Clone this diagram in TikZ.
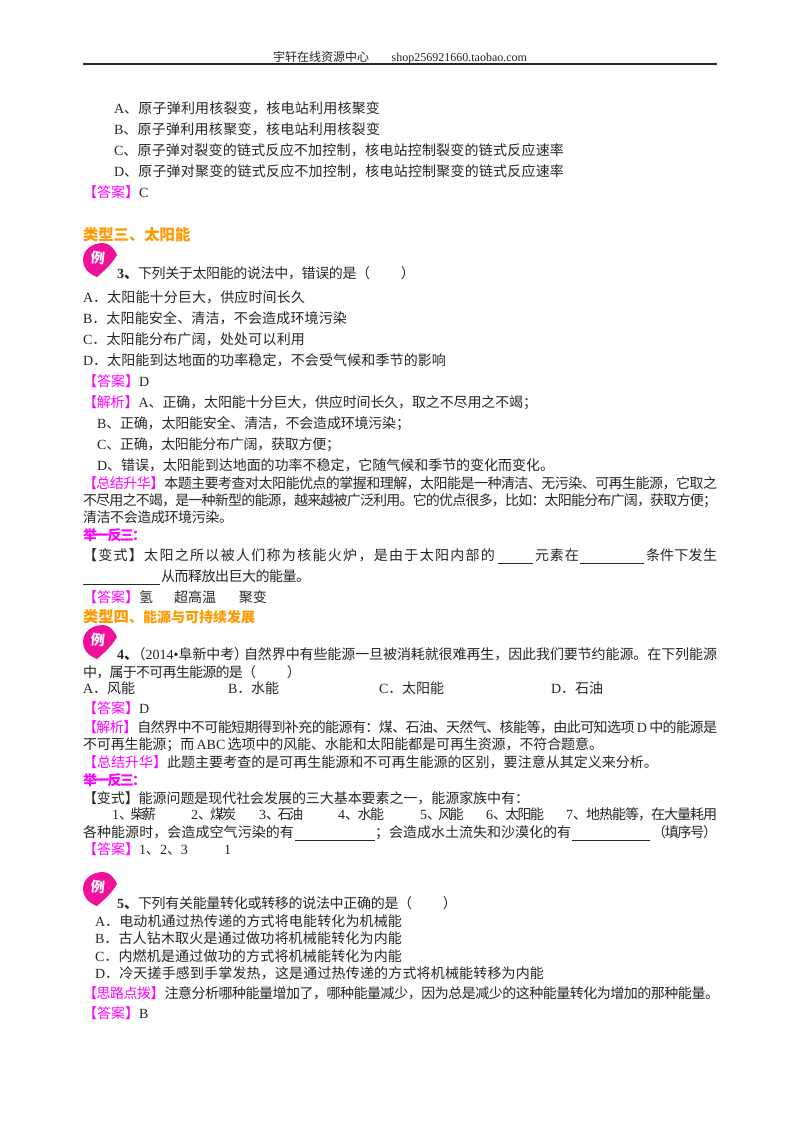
\documentclass[tikz,border=0pt]{standalone}
\usepackage{fontspec}
\setmainfont{Noto Sans CJK SC}
\newfontfamily\latinf{Liberation Serif}
\XeTeXinterchartokenstate=1
\newXeTeXintercharclass\cjkcls
\newcount\cjkloop
\newcommand\markrange[2]{\cjkloop=#1\relax
  \loop \XeTeXcharclass\cjkloop=\cjkcls \ifnum\cjkloop<#2\relax \advance\cjkloop by 1 \repeat}
\markrange{"3000}{"303F}
\markrange{"4E00}{"9FFF}
\markrange{"FF00}{"FFEF}
\XeTeXinterchartoks\cjkcls\cjkcls={\hskip 0pt plus 6pt minus 2pt\relax}
\XeTeXinterchartoks 0 \cjkcls={\hskip 0pt plus 6pt minus 1pt\relax}
\XeTeXinterchartoks\cjkcls 0 ={\hskip 0pt plus 6pt minus 1pt\relax}
\definecolor{mg}{HTML}{FF00FF}
\definecolor{og}{HTML}{FF9900}
\definecolor{ink}{HTML}{262626}
\definecolor{badgepink}{HTML}{F0109A}
\newdimen\pxu \pxu=0.75pt
\newcommand\J[2]{\makebox[#1\pxu][s]{#2}}
\newcommand\En[1]{{\latinf #1}}
\newcommand\Mg[1]{{\color{mg}#1}}
\newcommand\BN[1]{{\latinf\bfseries #1}{\bfseries 、}}
\tikzset{
  txt/.style={anchor=base west,inner sep=0pt,outer sep=0pt,font=\fontsize{10.5pt}{12pt}\selectfont,text=ink},
  head/.style={txt,text=og,font=\fontsize{11.5pt}{13pt}\selectfont\bfseries},
  sub/.style={txt,text=mg,font=\fontsize{10.5pt}{12pt}\selectfont\bfseries},
  blank/.style={draw=ink,line width=0.7pt},
  badgefill/.style={fill=badgepink},
  badgetxt/.style={inner sep=0pt,text=white,font=\fontsize{10.5pt}{12pt}\selectfont\bfseries,rotate=-6}
}
\newcommand\LiBadge[3]{%
  \fill[badgefill,shift={(#1,#2)}] (14,34) .. controls (4,30) and (0,24) .. (0,17)
    .. controls (0,6) and (10,0) .. (20,0) .. controls (26,0) and (31,5) .. (34,12)
    .. controls (28,22) and (22,27) .. (14,34) -- cycle;
  \node[badgetxt] (#3) at (#1+15,#2+15) {例};
}
\begin{document}
\begin{tikzpicture}[x=0.75pt,y=-0.75pt]
\useasboundingbox (0,0) rectangle (800,1132);
\fill[white] (0,0) rectangle (800,1132);
% header
\node[txt,font=\fontsize{9pt}{10pt}\selectfont] (hdr) at (273,61) {\J{254}{宇轩在线资源中心\hfill\En{shop256921660.taobao.com}}};
\coordinate (ruleL) at (83,64); \coordinate (ruleR) at (717,64);
\draw[ink,line width=1.5pt] (ruleL) -- (ruleR);
% first block
\node[txt] (a1) at (114,113) {\J{266}{\En{A}、原子弹利用核裂变，核电站利用核聚变}};
\node[txt] (a2) at (114,134) {\J{266}{\En{B}、原子弹利用核聚变，核电站利用核裂变}};
\node[txt] (a3) at (114,155) {\J{450}{\En{C}、原子弹对裂变的链式反应不加控制，核电站控制裂变的链式反应速率}};
\node[txt] (a4) at (114,176) {\J{450}{\En{D}、原子弹对聚变的链式反应不加控制，核电站控制聚变的链式反应速率}};
\node[txt] (a5) at (83,197) {\Mg{【答案】}\En{C}};
\node[head] (h3) at (83,240) {类型三、太阳能};
\LiBadge{83}{243}{b1}
\node[txt] (q3) at (117,278) {\J{298}{\BN{3}下列关于太阳能的说法中，错误的是（\hspace{2.2em}）}};
\node[txt] (q3a) at (83,302) {\J{222}{\En{A}．太阳能十分巨大，供应时间长久}};
\node[txt] (q3b) at (83,323) {\J{264}{\En{B}．太阳能安全、清洁，不会造成环境污染}};
\node[txt] (q3c) at (83,344) {\J{222}{\En{C}．太阳能分布广阔，处处可以利用}};
\node[txt] (q3d) at (83,365) {\J{363}{\En{D}．太阳能到达地面的功率稳定，不会受气候和季节的影响}};
\node[txt] (q3e) at (83,386) {\Mg{【答案】}\En{D}};
\node[txt] (q3f) at (83,407) {\J{454}{\Mg{【解析】}\En{A}、正确，太阳能十分巨大，供应时间长久，取之不尽用之不竭；}};
\node[txt] (q3g) at (97,428) {\J{313}{\En{B}、正确，太阳能安全、清洁，不会造成环境污染；}};
\node[txt] (q3h) at (97,449) {\J{243}{\En{C}、正确，太阳能分布广阔，获取方便；}};
\node[txt] (q3i) at (97,470) {\J{457}{\En{D}、错误，太阳能到达地面的功率不稳定，它随气候和季节的变化而变化。}};
\node[txt] (s1) at (83,488) {\J{634}{\Mg{【总结升华】}本题主要考查对太阳能优点的掌握和理解，太阳能是一种清洁、无污染、可再生能源，它取之}};
\node[txt] (s2) at (83,505) {\J{634}{不尽用之不竭，是一种新型的能源，越来越被广泛利用。它的优点很多，比如：太阳能分布广阔，获取方便；}};
\node[txt] (s3) at (83,522) {\J{150}{清洁不会造成环境污染。}};
\node[sub] (j1) at (83,540) {\J{63}{举一反三：}};
\node[txt] (v1) at (83,560) {\J{412}{【变式】太阳之所以被人们称为核能火炉，是由于太阳内部的}};
\coordinate (u1a) at (498,563); \coordinate (u1b) at (533,563);
\draw[blank] (u1a) -- (u1b);
\node[txt] (v2) at (535,560) {\J{44}{元素在}};
\coordinate (u2a) at (580,563); \coordinate (u2b) at (644,563);
\draw[blank] (u2a) -- (u2b);
\node[txt] (v3) at (646,560) {\J{71}{条件下发生}};
\coordinate (u3a) at (83,584); \coordinate (u3b) at (160,584);
\draw[blank] (u3a) -- (u3b);
\node[txt] (v4) at (161,581) {\J{149}{从而释放出巨大的能量。}};
\node[txt] (v5) at (83,602) {\Mg{【答案】}氢\hspace{21\pxu}超高温\hspace{23\pxu}聚变};
\node[head] (h4) at (83,622) {类型四{\fontsize{10.5pt}{12pt}\selectfont 、能源与可持续发展}};
\LiBadge{83}{625}{b2}
\node[txt] (q4) at (117,659) {\J{600}{\BN{4}\hspace{-0.45em}（\En{2014•}阜新中考）\hspace{-0.3em}自然界中有些能源一旦被消耗就很难再生，因此我们要节约能源。在下列能源}};
\node[txt] (q4b) at (83,677) {\J{218}{中，属于不可再生能源的是（\hspace{2.2em}）}};
\node[txt] (o1) at (83,693) {\J{52}{\En{A}．风能}};
\node[txt] (o2) at (228,693) {\J{51}{\En{B}．水能}};
\node[txt] (o3) at (379,693) {\J{65}{\En{C}．太阳能}};
\node[txt] (o4) at (551,693) {\J{52}{\En{D}．石油}};
\node[txt] (q4c) at (83,713) {\Mg{【答案】}\En{D}};
\node[txt] (q4d) at (83,732) {\J{634}{\Mg{【解析】}自然界中不可能短期得到补充的能源有：煤、石油、天然气、核能等，由此可知选项\En{\,D\,}中的能源是}};
\node[txt] (q4e) at (83,749) {\J{520}{不可再生能源；而\En{\,ABC\,}选项中的风能、水能和太阳能都是可再生资源，不符合题意。}};
\node[txt] (q4f) at (83,767) {\J{575}{\Mg{【总结升华】}此题主要考查的是可再生能源和不可再生能源的区别，要注意从其定义来分析。}};
\node[sub] (j2) at (83,785) {\J{63}{举一反三：}};
\node[txt] (w1) at (83,803) {\J{446}{【变式】能源问题是现代社会发展的三大基本要素之一，能源家族中有：}};
\node[txt] (w2) at (112,819) {\J{44}{\En{1}、柴薪}};
\node[txt] (w3) at (191,819) {\J{45}{\En{2}、煤炭}};
\node[txt] (w4) at (259,819) {\J{44}{\En{3}、石油}};
\node[txt] (w5) at (338,819) {\J{46}{\En{4}、水能}};
\node[txt] (w6) at (420,819) {\J{43}{\En{5}、风能}};
\node[txt] (w7) at (486,819) {\J{58}{\En{6}、太阳能}};
\node[txt] (w8) at (566,819) {\J{151}{\En{7}、地热能等，在大量耗用}};
\node[txt] (w9) at (83,837) {\J{211}{各种能源时，会造成空气污染的有}};
\coordinate (u4a) at (295,840); \coordinate (u4b) at (375,840);
\draw[blank] (u4a) -- (u4b);
\node[txt] (w10) at (375,837) {\J{196}{；会造成水土流失和沙漠化的有}};
\coordinate (u5a) at (572,840); \coordinate (u5b) at (650,840);
\draw[blank] (u5a) -- (u5b);
\node[txt] (w11) at (652,837) {\J{65}{（填序号）}};
\node[txt] (w12) at (83,854) {\Mg{【答案】}\En{1}、\En{2}、\En{3}};
\node[txt] (w13) at (224,854) {\En{1}};
\LiBadge{83}{872}{b3}
\node[txt] (q5) at (117,908) {\J{340}{\BN{5}下列有关能量转化或转移的说法中正确的是（\hspace{2.2em}）}};
\node[txt] (q5a) at (95,926) {\J{307}{\En{A}．电动机通过热传递的方式将电能转化为机械能}};
\node[txt] (q5b) at (95,943) {\J{307}{\En{B}．古人钻木取火是通过做功将机械能转化为内能}};
\node[txt] (q5c) at (95,961) {\J{307}{\En{C}．内燃机是通过做功的方式将机械能转化为内能}};
\node[txt] (q5d) at (95,978) {\J{449}{\En{D}．冷天搓手感到手掌发热，这是通过热传递的方式将机械能转移为内能}};
\node[txt] (q5e) at (83,998) {\J{636}{\Mg{【思路点拨】}注意分析哪种能量增加了，哪种能量减少，因为总是减少的这种能量转化为增加的那种能量。}};
\node[txt] (q5f) at (83,1018) {\Mg{【答案】}\En{B}};
\end{tikzpicture}
\end{document}
